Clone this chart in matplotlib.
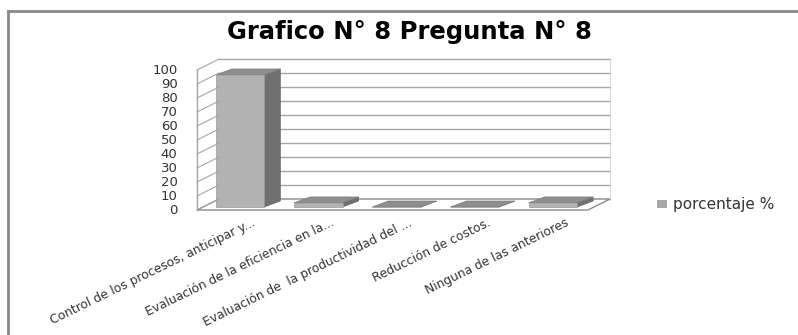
import matplotlib
matplotlib.use("Agg")
import matplotlib.pyplot as plt
import matplotlib.transforms as mtransforms
from matplotlib.patches import Polygon

# datos del grafico
categorias = ['Control de los procesos, anticipar y...',
              'Evaluación de la eficiencia en la...',
              'Evaluación de  la productividad del ...',
              'Reducción de costos.',
              'Ninguna de las anteriores']
porcentaje = [94.3, 2.9, 0.0, 0.0, 2.9]
serie = 'porcentaje %'
titulo = 'Grafico N° 8 Pregunta N° 8'
yticks = list(range(0, 101, 10))

W, H, DPI = 798, 335, 100
fig = plt.figure(figsize=(W / DPI, H / DPI), dpi=DPI)

# borde del area del grafico (solo arriba e izquierda visibles)
fig.add_artist(plt.Line2D([8 / W, 8 / W], [0, 1 - 11 / H], transform=fig.transFigure,
                          color='#8a8a8a', lw=2))
fig.add_artist(plt.Line2D([8 / W, 1], [1 - 11 / H, 1 - 11 / H], transform=fig.transFigure,
                          color='#8a8a8a', lw=2))

# plano frontal del area de trazado en pixeles
left, right, bottom, top = 197, 588, 210, 70
ax = fig.add_axes([left / W, 1 - bottom / H, (right - left) / W, (bottom - top) / H])
ax.set_xlim(0, len(categorias))
ax.set_ylim(0, 100)
ax.axis('off')

# desplazamiento de profundidad (pseudo 3D)
def offset(dx_px, dy_px):
    return ax.transData + mtransforms.ScaledTranslation(dx_px / DPI, dy_px / DPI, fig.dpi_scale_trans)

back = offset(22, 11)
n = len(categorias)
grid_col = '#a6a6a6'

# pared del fondo, piso y pared lateral
for v in yticks:
    ax.plot([0, n], [v, v], color=grid_col, lw=1, transform=back, clip_on=False)
    p0 = ax.transData.transform((0, v))
    p1 = back.transform((0, v))
    fig.add_artist(plt.Line2D([p0[0] / W, p1[0] / W], [p0[1] / H, p1[1] / H],
                              transform=fig.transFigure, color=grid_col, lw=0.8))
ax.plot([n, n], [0, 100], color='#d0d0d0', lw=0.6, transform=back, clip_on=False)
ax.plot([0, 0], [0, 100], color=grid_col, lw=1, transform=ax.transData, clip_on=False)

def quad(pts_front, pts_back, tf_front, tf_back, **kw):
    pts = [tf_front.transform(p) for p in pts_front] + [tf_back.transform(p) for p in pts_back]
    fig.add_artist(Polygon([(x / W, y / H) for x, y in pts], closed=True,
                           transform=fig.transFigure, **kw))

quad([(0, 0), (n, 0)], [(n, 0), (0, 0)], ax.transData, back,
     facecolor='white', edgecolor='#8c8c8c', lw=1)

# barras
bw = 0.62
bf = offset(4, 3)
bb = offset(20, 9)
for i, val in enumerate(porcentaje):
    x0 = i + 0.5 - bw / 2
    x1 = i + 0.5 + bw / 2
    # cara lateral
    quad([(x1, 0), (x1, val)], [(x1, val), (x1, 0)], bf, bb,
         facecolor='#707070', edgecolor='#6a6a6a', lw=0.5)
    # cara superior
    quad([(x0, val), (x1, val)], [(x1, val), (x0, val)], bf, bb,
         facecolor='#8e8e8e', edgecolor='#7c7c7c', lw=0.5)
    # cara frontal
    quad([(x0, 0), (x1, 0), (x1, val), (x0, val)], [], bf, bf,
         facecolor='#b3b3b3', edgecolor='#9a9a9a', lw=0.5)

# etiquetas del eje y
for v in yticks:
    ax.text(-0.25, v, str(v), ha='right', va='center', fontsize=9.5,
            family='DejaVu Sans', color='#333333', clip_on=False)

# etiquetas del eje x
for i, lab in enumerate(categorias):
    ax.annotate(lab, xy=(i + 0.5, 0), xytext=(16, -6), textcoords='offset pixels',
                ha='right', va='top', rotation=26, rotation_mode='anchor',
                fontsize=8.8, family='DejaVu Sans', color='#333333')

# titulo
fig.text(409 / W, 1 - 32 / H, titulo, ha='center', va='center', fontsize=17.5,
         fontweight='bold', family='DejaVu Sans', color='black')

# leyenda
fig.add_artist(Polygon([(657 / W, 1 - 200 / H), (667 / W, 1 - 200 / H),
                        (667 / W, 1 - 208 / H), (657 / W, 1 - 208 / H)],
                       closed=True, transform=fig.transFigure,
                       facecolor='#a8a8a8', edgecolor='none'))
fig.text(673 / W, 1 - 204.5 / H, serie, ha='left', va='center', fontsize=11,
         family='DejaVu Sans', color='#333333')

plt.savefig('out.png', dpi=DPI)
